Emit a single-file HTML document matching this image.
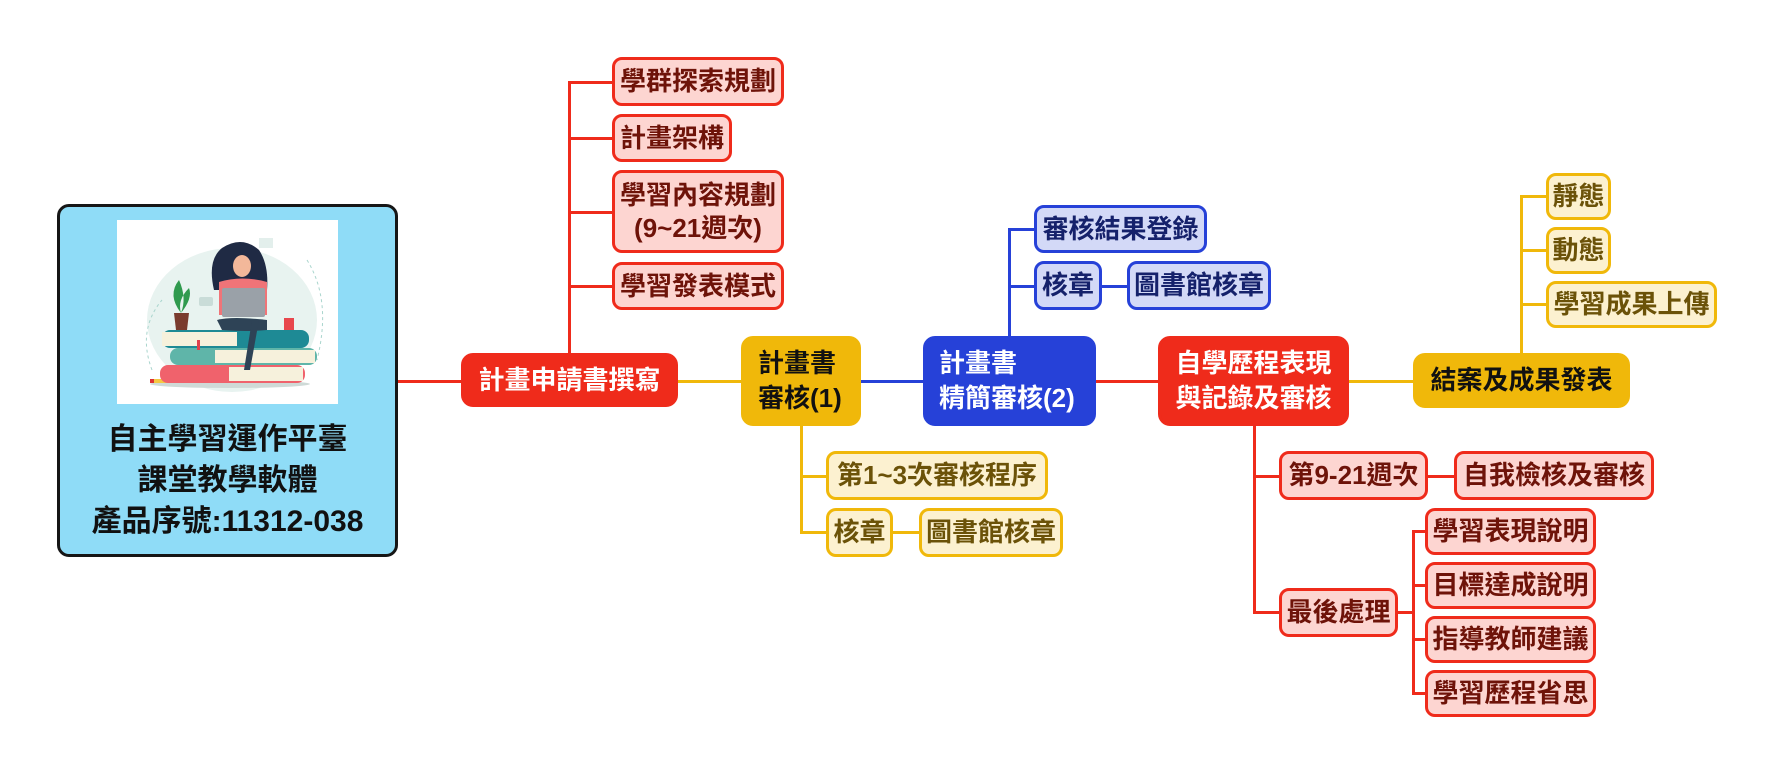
<!DOCTYPE html>
<html><head><meta charset="utf-8">
<style>
html,body{margin:0;padding:0;background:#fff;}
body{width:1774px;height:774px;position:relative;overflow:hidden;font-family:"Liberation Sans","Noto Sans CJK TC",sans-serif;}
.b{position:absolute;box-sizing:border-box;display:flex;align-items:center;justify-content:center;border-radius:10px;border:3px solid;font-weight:bold;font-size:26px;white-space:nowrap;line-height:33px;text-align:center;}
.rc{background:#fdd5d1;border-color:#ef2b1b;color:#6e1309;}
.yc{background:#fcf1d0;border-color:#f0b80a;color:#6b5208;}
.bc{background:#d3d9f7;border-color:#2641d8;color:#15216b;}
.l{position:absolute;}
.r{background:#ef2b1b;}
.y{background:#f0b80a;}
.u{background:#2641d8;}
</style></head><body>

<!-- connectors -->
<div class="l r" style="left:398px;top:380px;width:63px;height:3px"></div>
<div class="l r" style="left:568px;top:81px;width:3px;height:272px"></div>
<div class="l r" style="left:568px;top:81px;width:44px;height:3px"></div>
<div class="l r" style="left:568px;top:137px;width:44px;height:3px"></div>
<div class="l r" style="left:568px;top:211px;width:44px;height:3px"></div>
<div class="l r" style="left:568px;top:285px;width:44px;height:3px"></div>

<div class="l y" style="left:678px;top:380px;width:63px;height:3px"></div>
<div class="l u" style="left:861px;top:380px;width:62px;height:3px"></div>
<div class="l u" style="left:1008px;top:228px;width:3px;height:108px"></div>
<div class="l u" style="left:1008px;top:228px;width:26px;height:3px"></div>
<div class="l u" style="left:1008px;top:285px;width:26px;height:3px"></div>
<div class="l u" style="left:1102px;top:285px;width:25px;height:3px"></div>

<div class="l y" style="left:800px;top:426px;width:3px;height:107px"></div>
<div class="l y" style="left:800px;top:475px;width:26px;height:3px"></div>
<div class="l y" style="left:800px;top:531px;width:26px;height:3px"></div>
<div class="l y" style="left:893px;top:531px;width:26px;height:3px"></div>

<div class="l r" style="left:1096px;top:380px;width:62px;height:3px"></div>
<div class="l y" style="left:1349px;top:380px;width:64px;height:3px"></div>
<div class="l y" style="left:1520px;top:195px;width:3px;height:158px"></div>
<div class="l y" style="left:1520px;top:195px;width:26px;height:3px"></div>
<div class="l y" style="left:1520px;top:249px;width:26px;height:3px"></div>
<div class="l y" style="left:1520px;top:303px;width:26px;height:3px"></div>

<div class="l r" style="left:1253px;top:426px;width:3px;height:187px"></div>
<div class="l r" style="left:1253px;top:475px;width:26px;height:3px"></div>
<div class="l r" style="left:1253px;top:611px;width:26px;height:3px"></div>
<div class="l r" style="left:1428px;top:475px;width:26px;height:3px"></div>
<div class="l r" style="left:1398px;top:611px;width:15px;height:3px"></div>
<div class="l r" style="left:1412px;top:530px;width:3px;height:164px"></div>
<div class="l r" style="left:1412px;top:530px;width:13px;height:3px"></div>
<div class="l r" style="left:1412px;top:584px;width:13px;height:3px"></div>
<div class="l r" style="left:1412px;top:638px;width:13px;height:3px"></div>
<div class="l r" style="left:1412px;top:692px;width:13px;height:3px"></div>

<!-- root -->
<div style="position:absolute;left:57px;top:204px;width:341px;height:353px;box-sizing:border-box;border:3px solid #161616;border-radius:12px;background:#8fdcf7;"></div>
<div style="position:absolute;left:117px;top:220px;width:221px;height:184px;background:#fff;">
<svg width="221" height="184" viewBox="0 0 221 184">
<ellipse cx="115" cy="100" rx="85" ry="72" fill="#e8f3f0"/>
<path d="M35 150 Q20 110 45 80 M190 40 Q215 80 200 140" stroke="#a9d5cd" stroke-width="1" stroke-dasharray="3 3" fill="none"/>
<rect x="142" y="18" width="14" height="10" fill="#e3efec"/>
<rect x="82" y="77" width="14" height="9" rx="2" fill="#c9dcd8"/>
<ellipse cx="113" cy="164" rx="80" ry="4" fill="#cfdad7"/>
<rect x="33" y="159" width="60" height="4" fill="#f5c842"/>
<rect x="33" y="159" width="4" height="4" fill="#d33"/>
<rect x="43" y="145" width="145" height="18" rx="8" fill="#f0626c"/>
<rect x="112" y="147" width="74" height="14" fill="#f6f1dc"/>
<rect x="53" y="128" width="147" height="17" rx="8" fill="#5fb5a9"/>
<rect x="98" y="130" width="100" height="13" fill="#f6f1dc"/>
<rect x="45" y="110" width="147" height="18" rx="8" fill="#1e8a95"/>
<rect x="45" y="112" width="75" height="14" fill="#f6f1dc"/>
<rect x="80" y="120" width="3" height="10" fill="#e0424c"/>
<path d="M57 93 L72 93 L70 110 L59 110 Z" fill="#7a3b2e"/>
<path d="M64 93 Q50 75 62 60 Q70 78 64 93 Z M64 93 Q76 78 72 68 Q60 80 64 93Z" fill="#2f9a4e"/>
<path d="M97 70 Q90 40 105 28 Q125 15 142 30 Q152 45 150 70 Z" fill="#1f2a44"/>
<ellipse cx="125" cy="46" rx="9" ry="11" fill="#f3b89a"/>
<path d="M102 62 Q125 55 150 62 L150 95 L102 95 Z" fill="#f07478"/>
<rect x="105" y="68" width="43" height="29" rx="2" fill="#9aa1a8"/>
<path d="M100 100 Q115 96 150 100 L150 110 Q130 112 105 110 Z" fill="#2e4356"/>
<path d="M135 100 L142 100 L133 150 L127 150 Z" fill="#2e4356"/>
<rect x="167" y="98" width="10" height="12" fill="#e8474d"/>
</svg>
</div>
<div style="position:absolute;left:57px;top:419px;width:341px;text-align:center;font-weight:bold;font-size:30px;line-height:41px;color:#111;white-space:nowrap;">自主學習運作平臺<br>課堂教學軟體<br>產品序號:11312-038</div>

<!-- branch 1 -->
<div class="b" style="left:461px;top:353px;width:217px;height:54px;background:#ef2b1b;border-color:#ef2b1b;color:#fff;border-radius:12px;">計畫申請書撰寫</div>
<div class="b rc" style="left:612px;top:57px;width:172px;height:49px;">學群探索規劃</div>
<div class="b rc" style="left:612px;top:114px;width:120px;height:48px;">計畫架構</div>
<div class="b rc" style="left:612px;top:170px;width:172px;height:83px;">學習內容規劃<br>(9~21週次)</div>
<div class="b rc" style="left:612px;top:262px;width:172px;height:48px;">學習發表模式</div>

<!-- branch 2 -->
<div class="b" style="left:741px;top:336px;width:120px;height:90px;background:#f0b80a;border-color:#f0b80a;color:#111;border-radius:12px;justify-content:flex-start;padding-left:14px;text-align:left;line-height:35px;">計畫書<br>審核(1)</div>
<div class="b yc" style="left:826px;top:451px;width:222px;height:49px;">第1~3次審核程序</div>
<div class="b yc" style="left:826px;top:508px;width:67px;height:49px;">核章</div>
<div class="b yc" style="left:919px;top:508px;width:144px;height:49px;">圖書館核章</div>

<!-- branch 3 -->
<div class="b" style="left:923px;top:336px;width:173px;height:90px;background:#2641d8;border-color:#2641d8;color:#fff;border-radius:12px;justify-content:flex-start;padding-left:13px;text-align:left;line-height:35px;">計畫書<br>精簡審核(2)</div>
<div class="b bc" style="left:1034px;top:205px;width:173px;height:48px;">審核結果登錄</div>
<div class="b bc" style="left:1034px;top:261px;width:68px;height:49px;">核章</div>
<div class="b bc" style="left:1127px;top:261px;width:144px;height:49px;">圖書館核章</div>

<!-- branch 4 -->
<div class="b" style="left:1158px;top:336px;width:191px;height:90px;background:#ef2b1b;border-color:#ef2b1b;color:#fff;border-radius:12px;line-height:35px;">自學歷程表現<br>與記錄及審核</div>
<div class="b rc" style="left:1279px;top:451px;width:149px;height:49px;">第9-21週次</div>
<div class="b rc" style="left:1454px;top:451px;width:200px;height:49px;">自我檢核及審核</div>
<div class="b rc" style="left:1279px;top:588px;width:119px;height:49px;">最後處理</div>
<div class="b rc" style="left:1425px;top:508px;width:171px;height:47px;">學習表現說明</div>
<div class="b rc" style="left:1425px;top:562px;width:171px;height:47px;">目標達成說明</div>
<div class="b rc" style="left:1425px;top:616px;width:171px;height:47px;">指導教師建議</div>
<div class="b rc" style="left:1425px;top:670px;width:171px;height:47px;">學習歷程省思</div>

<!-- branch 5 -->
<div class="b" style="left:1413px;top:353px;width:217px;height:55px;background:#f0b80a;border-color:#f0b80a;color:#111;border-radius:12px;">結案及成果發表</div>
<div class="b yc" style="left:1546px;top:173px;width:65px;height:47px;">靜態</div>
<div class="b yc" style="left:1546px;top:227px;width:65px;height:47px;">動態</div>
<div class="b yc" style="left:1546px;top:281px;width:171px;height:47px;">學習成果上傳</div>

</body></html>
